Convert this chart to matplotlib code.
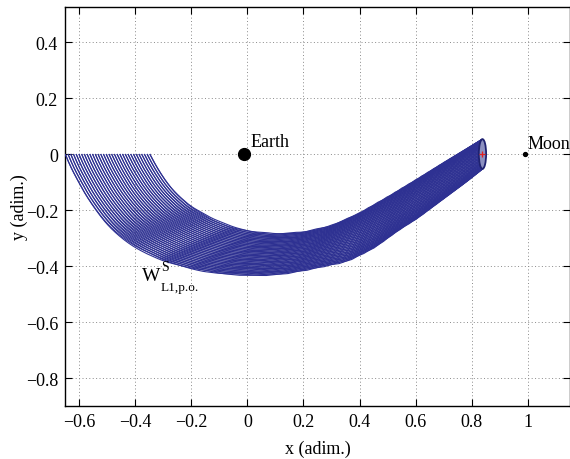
import numpy as np
import matplotlib
matplotlib.use('Agg')
import matplotlib.pyplot as plt
from matplotlib.patches import Ellipse

# ---------------- data ----------------
x_ticks = [-0.6, -0.4, -0.2, 0, 0.2, 0.4, 0.6, 0.8, 1]
x_tick_labels = ['\u22120.6', '\u22120.4', '\u22120.2', '0', '0.2', '0.4', '0.6', '0.8', '1']
y_ticks = [-0.8, -0.6, -0.4, -0.2, 0, 0.2, 0.4]
y_tick_labels = ['\u22120.8', '\u22120.6', '\u22120.4', '\u22120.2', '0', '0.2', '0.4']

earth_x, earth_y = -0.012, 0.0
moon_x, moon_y = 0.988, 0.0
l1_x, l1_y = 0.837, 0.0

# Lyapunov periodic orbit around L1
orbit_cx, orbit_cy = 0.838, 0.0
orbit_half_w = 0.013
orbit_half_h = 0.053

# inner (upper) envelope of the stable manifold tube
inner_x = [-0.343, -0.33, -0.31, -0.28, -0.25, -0.20, -0.12, -0.05, 0.02, 0.10,
           0.20, 0.30, 0.40, 0.50, 0.60, 0.70, 0.78, 0.838]
inner_y = [0.0, -0.025, -0.06, -0.105, -0.14, -0.185, -0.232, -0.26, -0.276, -0.284,
           -0.278, -0.255, -0.21, -0.152, -0.092, -0.03, 0.018, 0.053]

# outer (lower) envelope of the stable manifold tube
outer_x = [-0.654, -0.64, -0.62, -0.58, -0.54, -0.50, -0.45, -0.40, -0.30,
           -0.20, -0.10, 0.02, 0.114, 0.20, 0.354, 0.45, 0.543, 0.60,
           0.70, 0.78, 0.838]
outer_y = [0.0, -0.035, -0.075, -0.148, -0.207, -0.257, -0.302, -0.336, -0.384,
           -0.412, -0.429, -0.436, -0.432, -0.418, -0.386, -0.338, -0.27, -0.235,
           -0.16, -0.10, -0.053]

# phase on the periodic orbit where each trajectory starts (deg)
orbit_phase_deg = [4.69, 10.31, 15.94, 21.56, 27.19, 32.81, 38.44, 44.06, 49.69, 55.31,
                   60.94, 66.56, 72.19, 77.81, 83.44, 89.06, 94.69, 100.31, 105.94, 111.56,
                   117.19, 122.81, 128.44, 134.06, 139.69, 145.31, 150.94, 156.56, 162.19, 167.81,
                   173.44, 179.06, 184.69, 190.31, 195.94, 201.56, 207.19, 212.81, 218.44, 224.06,
                   229.69, 235.31, 240.94, 246.56, 252.19, 257.81, 263.44, 269.06, 274.69, 280.31,
                   285.94, 291.56, 297.19, 302.81, 308.44, 314.06, 319.69, 325.31, 330.94, 336.56,
                   342.19, 347.81, 353.44, 359.06]
# rotation of the trajectories around the tube between orbit and y = 0 (deg)
tube_twist_deg = 150.0

# ---------------- style ----------------
plt.rcParams['font.family'] = ['Liberation Serif', 'DejaVu Serif']

manifold_color = '#2E3192'

fig = plt.figure(figsize=(5.7, 4.6), dpi=100)
ax = fig.add_axes([65 / 570, 1 - 407 / 460, 505 / 570, 399 / 460])


def resample(xs, ys, t, k=21):
    xs = np.asarray(xs, float)
    ys = np.asarray(ys, float)
    s = np.concatenate([[0.0], np.cumsum(np.hypot(np.diff(xs), np.diff(ys)))])
    s /= s[-1]
    rx, ry = np.interp(t, s, xs), np.interp(t, s, ys)
    # light smoothing of the polyline corners (ends kept fixed)
    ker = np.ones(k) / k
    pad = k // 2
    sx = np.convolve(np.pad(rx, pad, mode='reflect', reflect_type='odd'), ker, 'valid')
    sy = np.convolve(np.pad(ry, pad, mode='reflect', reflect_type='odd'), ker, 'valid')
    return sx, sy


t = np.linspace(0.0, 1.0, 600)          # 0 = left end (y=0), 1 = periodic orbit
ix, iy = resample(inner_x, inner_y, t)
ox, oy = resample(outer_x, outer_y, t)
twist = np.radians(tube_twist_deg) * (1 - t ** 3)
blend = t ** 4

for ph in orbit_phase_deg:
    psi = np.radians(ph) + twist
    deg = np.degrees(psi)
    u_tri = 1 - np.abs(np.mod(deg - 90, 360) - 180) / 180
    u_ell = (1 - np.sin(psi)) / 2
    u = (1 - blend) * u_tri + blend * u_ell
    cx = (1 - u) * ix + u * ox + orbit_half_w * np.cos(psi) * blend
    cy = (1 - u) * iy + u * oy
    ax.plot(cx, cy, color=manifold_color, lw=0.8, solid_capstyle='butt', zorder=3)

ax.add_patch(Ellipse((orbit_cx, orbit_cy), 2 * orbit_half_w, 2 * orbit_half_h,
                     facecolor='#8c90c0', edgecolor='#1f2270', lw=1.3, zorder=4))
ax.plot([l1_x], [l1_y], marker='+', color='#e02020', ms=5, mew=0.9, zorder=5)

ax.plot([earth_x], [earth_y], 'o', color='black', ms=8.5, zorder=6)
ax.plot([moon_x], [moon_y], 'o', color='black', ms=2.8, zorder=6)

ax.text(0.01, 0.028, 'Earth', fontsize=13, ha='left', va='baseline', zorder=7)
ax.text(0.999, 0.021, 'Moon', fontsize=13, ha='left', va='baseline', zorder=7)

w_x, w_y = -0.376, -0.45
ax.text(w_x, w_y, 'W', fontsize=14, ha='left', va='baseline', zorder=7)
ax.annotate('S', xy=(w_x, w_y), xytext=(14.0, 7.0), textcoords='offset points',
            fontsize=10, ha='left', va='baseline', zorder=7)
ax.annotate('L1,p.o.', xy=(w_x, w_y), xytext=(13.7, -7.0), textcoords='offset points',
            fontsize=9.5, ha='left', va='baseline', zorder=7)

ax.set_xlim(-0.65, 1.15)
ax.set_ylim(-0.9, 0.525)
ax.set_xticks(x_ticks)
ax.set_xticklabels(x_tick_labels)
ax.set_yticks(y_ticks)
ax.set_yticklabels(y_tick_labels)
ax.tick_params(direction='in', length=5, width=0.8, top=True, right=True,
               labelsize=13, pad=5)
ax.grid(True, color='#8a8a8a', linestyle=(0, (1, 2.5)), linewidth=0.7)
for s in ax.spines.values():
    s.set_linewidth(1.0)
    s.set_color('black')

ax.set_xlabel('x (adim.)', fontsize=13, labelpad=7)
ax.set_ylabel('y (adim.)', fontsize=13, labelpad=-2)

fig.savefig('out.png', dpi=100)
